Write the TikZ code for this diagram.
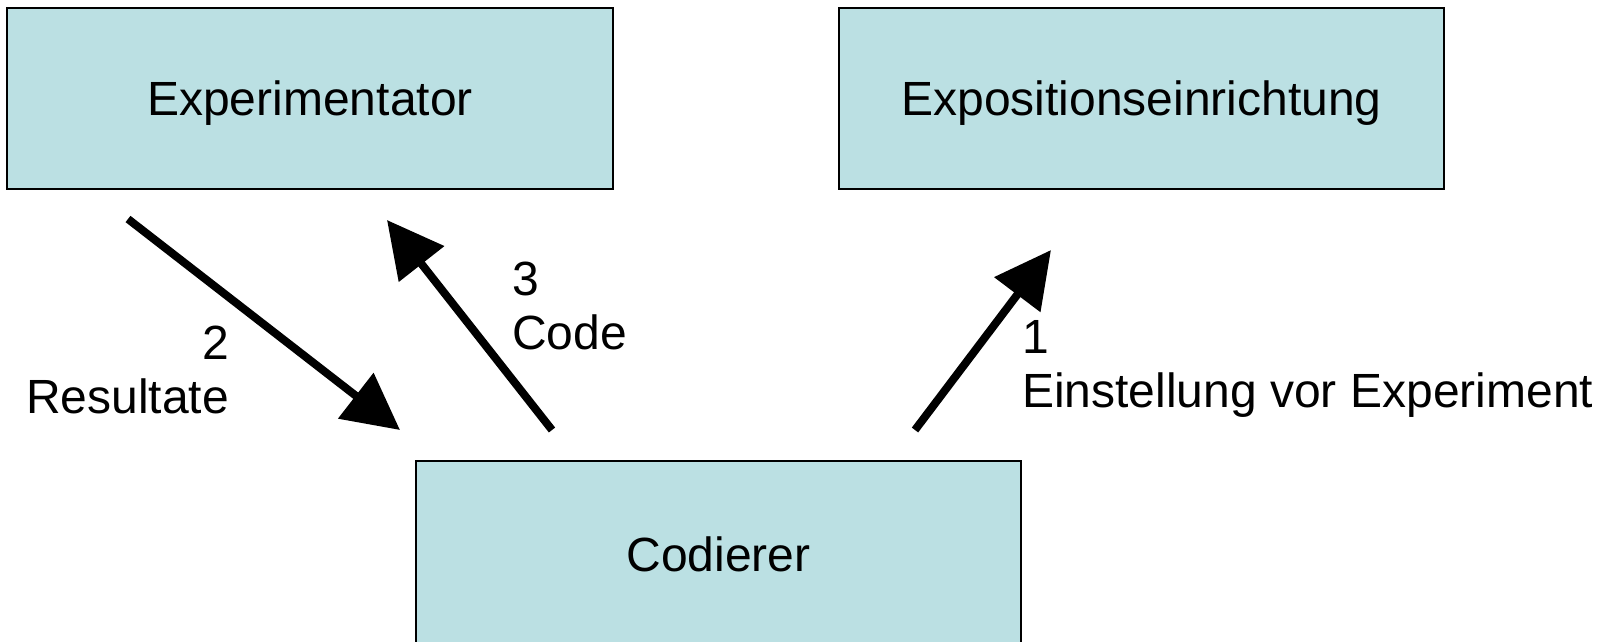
\documentclass[tikz,border=0pt]{standalone}
\usepackage{fontspec}
\setmainfont{Liberation Sans}
\usetikzlibrary{arrows.meta}
\definecolor{boxfill}{RGB}{187,224,227}
\begin{document}
\begin{tikzpicture}[x=1pt,y=-1pt,
  box/.style={draw=black, line width=2pt, fill=boxfill, inner sep=0pt,
    text depth=0pt, font=\fontsize{48}{55}\selectfont},
  lbl/.style={inner sep=0pt, font=\fontsize{48}{54}\selectfont},
  flow/.style={line width=8pt, -{Triangle[length=56pt,width=56pt]}}]
\useasboundingbox (0,0) rectangle (1613,641);
\node[box, minimum width=606pt, minimum height=181pt] (exp) at (310,98.5) {Experimentator};
\node[box, minimum width=605pt, minimum height=181pt] (expo) at (1141.5,98.5) {Expositionseinrichtung};
\node[box, minimum width=605pt, minimum height=186pt] (cod) at (718.5,554) {Codierer};
\coordinate (a2s) at (128,219);
\coordinate (a2e) at (400,430);
\coordinate (a3s) at (552,430);
\coordinate (a3e) at (387,220);
\coordinate (a1s) at (915,430);
\coordinate (a1e) at (1051,250);
\draw[flow] (a2s) -- (a2e);
\draw[flow] (a3s) -- (a3e);
\draw[flow] (a1s) -- (a1e);
\node[lbl, anchor=east, align=right] (l2) at (229,370) {2\\Resultate};
\node[lbl, anchor=west, align=left] (l3) at (512,306) {3\\Code};
\node[lbl, anchor=west, align=left] (l1) at (1022,369) {1\\Einstellung vor Experiment};
\end{tikzpicture}
\end{document}
